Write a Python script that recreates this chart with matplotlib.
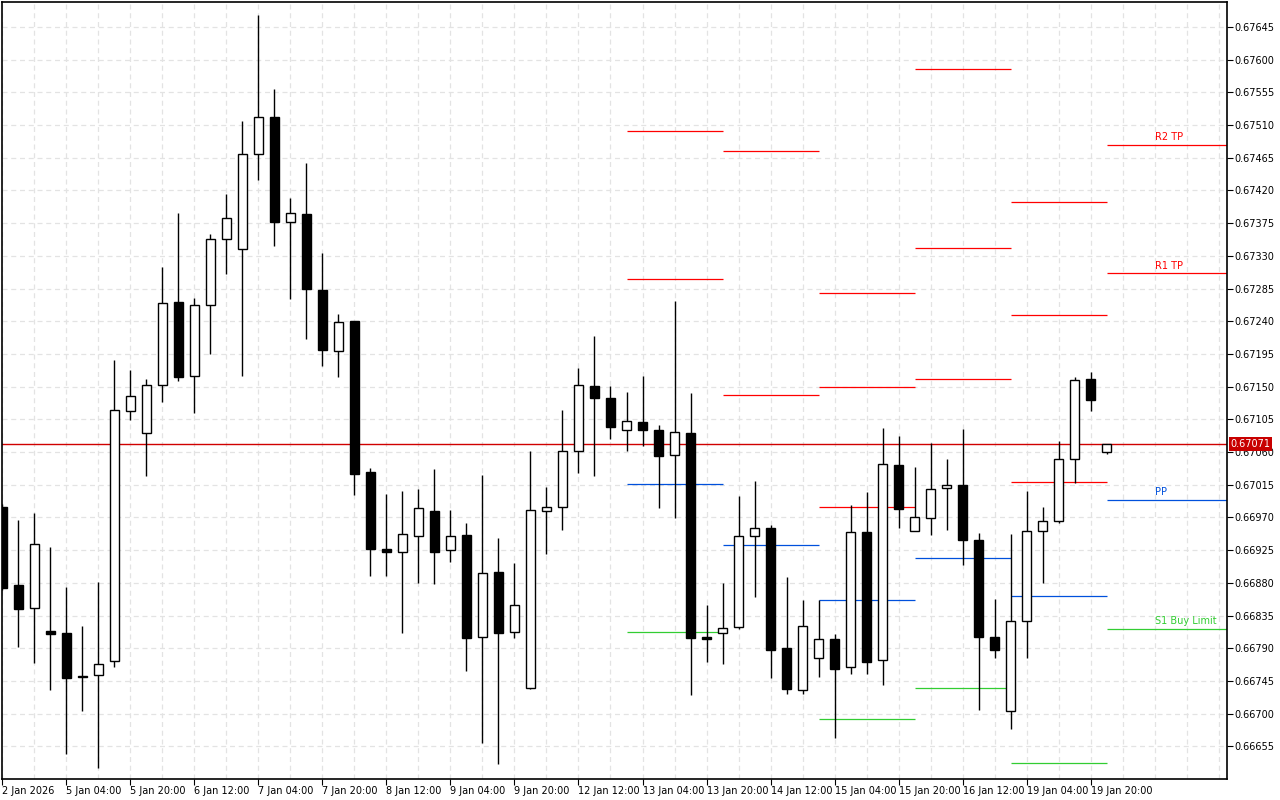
# AUDUSD H4 chart with daily pivot levels (MT4 style)

import numpy as np
import matplotlib.pyplot as plt
from matplotlib.patches import Rectangle
from matplotlib.transforms import blended_transform_factory

# Candles, index 0 = 2 Jan 12:00, 4h bars
opens = [0.66985, 0.66877, 0.66845, 0.66814, 0.66811, 0.66752, 0.66753, 0.66772, 0.67116, 0.67086,
         0.67152, 0.67267, 0.67164, 0.67263, 0.67353, 0.67340, 0.67470, 0.67521, 0.67376, 0.67388,
         0.67283, 0.67199, 0.67240, 0.67033, 0.66926, 0.66922, 0.66945, 0.66979, 0.66925, 0.66946,
         0.66805, 0.66895, 0.66812, 0.66735, 0.66979, 0.66984, 0.67062, 0.67151, 0.67135, 0.67090,
         0.67102, 0.67091, 0.67056, 0.67086, 0.66805, 0.66811, 0.66819, 0.66945, 0.66956, 0.66790,
         0.66733, 0.66777, 0.66802, 0.66764, 0.66950, 0.66774, 0.67042, 0.66952, 0.66969, 0.67011,
         0.67015, 0.66939, 0.66805, 0.66703, 0.66827, 0.66952, 0.66965, 0.67050, 0.67160, 0.67060]
highs = [0.66988, 0.66967, 0.66976, 0.66929, 0.66874, 0.66820, 0.66881, 0.67187, 0.67173, 0.67161,
         0.67314, 0.67389, 0.67272, 0.67360, 0.67415, 0.67515, 0.67661, 0.67559, 0.67410, 0.67458,
         0.67334, 0.67250, 0.67241, 0.67038, 0.67002, 0.67006, 0.67009, 0.67037, 0.66980, 0.66962,
         0.67029, 0.66942, 0.66907, 0.67062, 0.67012, 0.67118, 0.67176, 0.67220, 0.67151, 0.67142,
         0.67164, 0.67097, 0.67268, 0.67141, 0.66849, 0.66880, 0.67000, 0.67020, 0.66959, 0.66888,
         0.66856, 0.66856, 0.66810, 0.66987, 0.67005, 0.67093, 0.67082, 0.67039, 0.67073, 0.67051,
         0.67092, 0.66948, 0.66858, 0.66947, 0.67006, 0.66984, 0.67075, 0.67163, 0.67170, 0.67071]
lows = [0.66870, 0.66791, 0.66770, 0.66732, 0.66645, 0.66704, 0.66625, 0.66764, 0.67104, 0.67027,
        0.67129, 0.67158, 0.67114, 0.67195, 0.67305, 0.67164, 0.67435, 0.67344, 0.67270, 0.67216,
        0.67179, 0.67163, 0.67001, 0.66890, 0.66889, 0.66811, 0.66880, 0.66879, 0.66908, 0.66758,
        0.66659, 0.66631, 0.66804, 0.66734, 0.66920, 0.66953, 0.67031, 0.67027, 0.67078, 0.67061,
        0.67068, 0.66983, 0.66969, 0.66725, 0.66771, 0.66768, 0.66816, 0.66860, 0.66749, 0.66727,
        0.66727, 0.66751, 0.66667, 0.66755, 0.66755, 0.66740, 0.66955, 0.66951, 0.66946, 0.66953,
        0.66905, 0.66705, 0.66776, 0.66679, 0.66776, 0.66880, 0.66963, 0.67017, 0.67117, 0.67057]
closes = [0.66873, 0.66844, 0.66933, 0.66809, 0.66749, 0.66750, 0.66768, 0.67118, 0.67137, 0.67152,
          0.67265, 0.67163, 0.67263, 0.67353, 0.67382, 0.67470, 0.67521, 0.67377, 0.67389, 0.67284,
          0.67200, 0.67239, 0.67030, 0.66927, 0.66922, 0.66947, 0.66983, 0.66922, 0.66945, 0.66804,
          0.66893, 0.66811, 0.66850, 0.66980, 0.66984, 0.67061, 0.67152, 0.67134, 0.67094, 0.67103,
          0.67091, 0.67055, 0.67087, 0.66804, 0.66802, 0.66818, 0.66945, 0.66956, 0.66788, 0.66734,
          0.66821, 0.66802, 0.66762, 0.66950, 0.66771, 0.67043, 0.66981, 0.66970, 0.67009, 0.67014,
          0.66939, 0.66806, 0.66788, 0.66827, 0.66952, 0.66965, 0.67050, 0.67159, 0.67131, 0.67071]

tick_idx = list(range(0, 69, 4))
tick_labels = ["2 Jan 2026", "5 Jan 04:00", "5 Jan 20:00", "6 Jan 12:00", "7 Jan 04:00",
               "7 Jan 20:00", "8 Jan 12:00", "9 Jan 04:00", "9 Jan 20:00", "12 Jan 12:00",
               "13 Jan 04:00", "13 Jan 20:00", "14 Jan 12:00", "15 Jan 04:00", "15 Jan 20:00",
               "16 Jan 12:00", "19 Jan 04:00", "19 Jan 20:00"]
price_ticks = [0.66655, 0.66700, 0.66745, 0.66790, 0.66835, 0.66880, 0.66925, 0.66970,
               0.67015, 0.67060, 0.67105, 0.67150, 0.67195, 0.67240, 0.67285, 0.67330,
               0.67375, 0.67420, 0.67465, 0.67510, 0.67555, 0.67600, 0.67645]

# daily pivot levels (13 Jan .. 20 Jan)
nan = np.nan
day_start = [39, 45, 51, 57, 63, 69]
day_end = [45, 51, 57, 63, 69, 80]
r3 = [nan, nan, 0.67279, 0.67587, 0.67404, nan]
r2 = [0.67502, 0.67474, 0.67149, 0.67341, 0.67249, 0.67483]
r1 = [0.67298, 0.67138, 0.66985, 0.67160, 0.67019, 0.67306]
pp = [0.67016, 0.66932, 0.66856, 0.66914, 0.66862, 0.66994]
s1 = [0.66813, nan, 0.66692, 0.66735, 0.66632, 0.66817]

last_price = 0.67071

RED = "#FF0000"
BLUE = "#0050DC"
GREEN = "#32CD32"

fig = plt.figure(figsize=(12.8, 8), dpi=100)
ax = fig.add_axes([2 / 1280, 21 / 800, 1225 / 1280, 777 / 800])

ax.set_xlim(-0.03, 76.53)
ax.set_ylim(0.666100, 0.676794)

# grid
ax.set_xticks(tick_idx)
ax.set_xticks(range(0, 78, 2), minor=True)
ax.set_yticks(price_ticks)
ax.grid(True, which="both", axis="x", color="#E3E3E3", linestyle=(0, (4, 3)), lw=0.9)
ax.grid(True, which="major", axis="y", color="#E3E3E3", linestyle=(0, (4, 3)), lw=0.9)
ax.set_axisbelow(True)

# pivot segments
for levels, col in [(r3, RED), (r2, RED), (r1, RED), (pp, BLUE), (s1, GREEN)]:
    for s, e, v in zip(day_start, day_end, levels):
        if not np.isnan(v):
            ax.plot([s, e], [v, v], color=col, lw=0.9, zorder=2, solid_capstyle="butt")

# labels on today's levels
for v, txt, col in [(r2[-1], "R2 TP", RED), (r1[-1], "R1 TP", RED),
                    (pp[-1], "PP", BLUE), (s1[-1], "S1 Buy Limit", GREEN)]:
    ax.annotate(txt, (72, v), xytext=(0, 2), textcoords="offset points",
                color=col, fontsize=7, ha="left", va="bottom", zorder=3)

# current price line
ax.axhline(last_price, color="#D00000", lw=1.0, zorder=2)

# candles
w = 0.62
for i, (o, h, l, c) in enumerate(zip(opens, highs, lows, closes)):
    ax.plot([i, i], [l, h], color="black", lw=1.0, zorder=4, solid_capstyle="butt")
    bull = c >= o
    ax.add_patch(Rectangle((i - w / 2, min(o, c)), w, abs(c - o),
                           facecolor="white" if bull else "black",
                           edgecolor="black", lw=1.0, zorder=5))

# axes styling
for sp in ax.spines.values():
    sp.set_color("black")
    sp.set_linewidth(1.2)
ax.yaxis.tick_right()
ax.set_yticklabels([f"{p:.5f}" for p in price_ticks])
ax.set_xticklabels(tick_labels)
for lab in ax.get_xticklabels():
    lab.set_horizontalalignment("left")
ax.tick_params(axis="y", which="major", direction="out", length=4, labelsize=7, pad=1)
ax.tick_params(axis="x", which="major", direction="out", length=4, labelsize=7, pad=1)
ax.tick_params(axis="x", which="minor", length=0)

# price tag
trans = blended_transform_factory(ax.transAxes, ax.transData)
ax.text(1.003, last_price, f"{last_price:.5f}", transform=trans, color="white",
        fontsize=7, ha="left", va="center", clip_on=False, zorder=6,
        bbox=dict(facecolor="#C80000", edgecolor="none", pad=1.2))

fig.savefig("out.png", dpi=100)
